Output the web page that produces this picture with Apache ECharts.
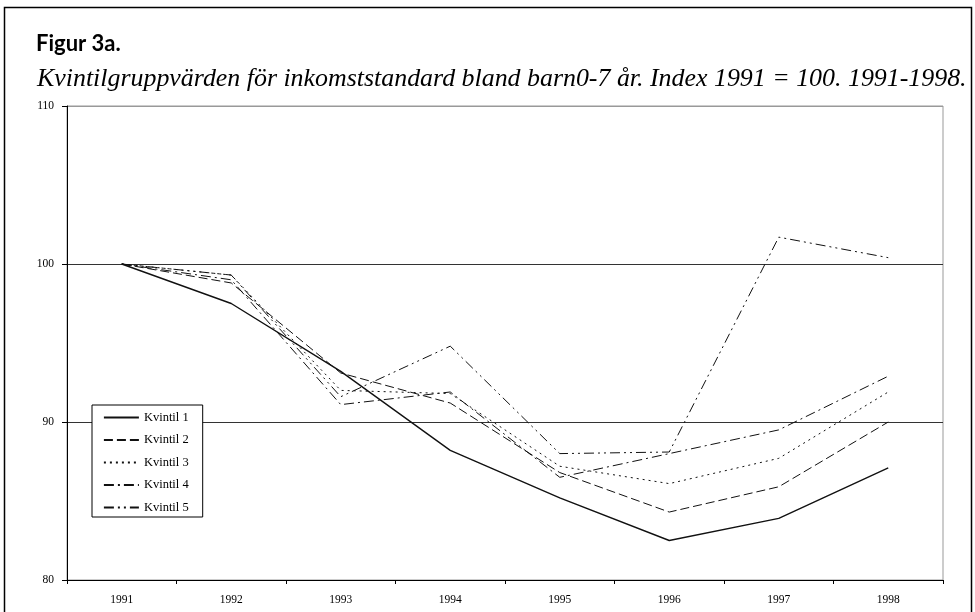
<!DOCTYPE html>
<html>
<head>
<meta charset="utf-8">
<script src="https://cdn.jsdelivr.net/npm/echarts@6/dist/echarts.min.js"></script>
<style>html,body{margin:0;padding:0;background:#fff}#c{width:975px;height:612px}</style>
</head>
<body>
<div id="c"></div>
<script>
const years = ['1991','1992','1993','1994','1995','1996','1997','1998'];
const kvintil1 = [100, 97.5, 93.2, 88.2, 85.2, 82.5, 83.9, 87.1];
const kvintil2 = [100, 98.8, 93.1, 91.2, 86.8, 84.3, 85.9, 90.0];
const kvintil3 = [100, 99.3, 92.0, 91.8, 87.2, 86.1, 87.7, 91.9];
const kvintil4 = [100, 99.0, 91.1, 91.9, 86.5, 88.0, 89.5, 92.9];
const kvintil5 = [100, 99.3, 91.6, 94.8, 88.0, 88.1, 101.7, 100.4];
const seriesNames = ['Kvintil 1','Kvintil 2','Kvintil 3','Kvintil 4','Kvintil 5'];
const yTicks = [80, 90, 100, 110];
const titleText = 'Figur 3a.';
const subtitleText = 'Kvintilgruppvärden för inkomststandard bland barn0-7 år. Index 1991 = 100. 1991-1998.';

const serif = 'Liberation Serif';
const dashes = ['solid', [9, 4], [2, 4], [10, 4, 2, 4], [10, 4, 2, 4, 2, 4]];
const widths = [1.4, 1, 1, 1, 1];
const data = [kvintil1, kvintil2, kvintil3, kvintil4, kvintil5];

const chart = echarts.init(document.getElementById('c'), null, {renderer: 'canvas'});
chart.setOption({
  animation: false,
  backgroundColor: '#fff',
  title: [
    {text: titleText, left: 36, top: 33, padding: 0,
     textStyle: {fontFamily: 'Lato', fontWeight: 'bold', fontSize: 22, color: '#000'}},
    {text: subtitleText, left: 37, top: 66, padding: 0,
     textStyle: {fontFamily: serif, fontStyle: 'italic', fontWeight: 'normal', fontSize: 25.9, color: '#000'}}
  ],
  graphic: [
    {type: 'rect', shape: {x: 4.5, y: 7.5, width: 967, height: 620},
     style: {fill: 'none', stroke: '#000', lineWidth: 1.5}, z: 10, silent: true}
  ],
  legend: {
    orient: 'vertical', left: 92, top: 405,
    data: seriesNames,
    itemWidth: 35, itemHeight: 14, itemGap: 9.5,
    padding: [6, 14, 3, 11],
    backgroundColor: '#fff', borderColor: '#000', borderWidth: 1,
    itemStyle: {opacity: 0},
    lineStyle: {width: 1.8},
    textStyle: {fontFamily: serif, fontSize: 12.5, color: '#000'}
  },
  grid: {left: 67, right: 32, top: 106, bottom: 32, show: true, borderColor: '#999', borderWidth: 1},
  xAxis: {
    type: 'category', data: years, boundaryGap: true,
    axisLine: {lineStyle: {color: '#000', width: 1}},
    axisTick: {show: true, alignWithLabel: false, length: 4, lineStyle: {color: '#000'}},
    axisLabel: {fontFamily: serif, fontSize: 11.5, color: '#000', margin: 14},
    splitLine: {show: false}
  },
  yAxis: {
    type: 'value', min: yTicks[0], max: yTicks[yTicks.length - 1], interval: 10,
    axisLine: {show: true, lineStyle: {color: '#000', width: 1}},
    axisTick: {show: true, length: 5, lineStyle: {color: '#000'}},
    axisLabel: {fontFamily: serif, fontSize: 11.5, color: '#000', margin: 13},
    splitLine: {show: true, lineStyle: {color: ['#000', '#333', '#333', '#999'], width: 1}}
  },
  series: seriesNames.map((n, i) => ({
    name: n, type: 'line', data: data[i], symbol: 'none', smooth: false,
    lineStyle: {color: '#111', width: widths[i], type: dashes[i]},
    itemStyle: {color: '#111'}
  }))
});
</script>
</body>
</html>
